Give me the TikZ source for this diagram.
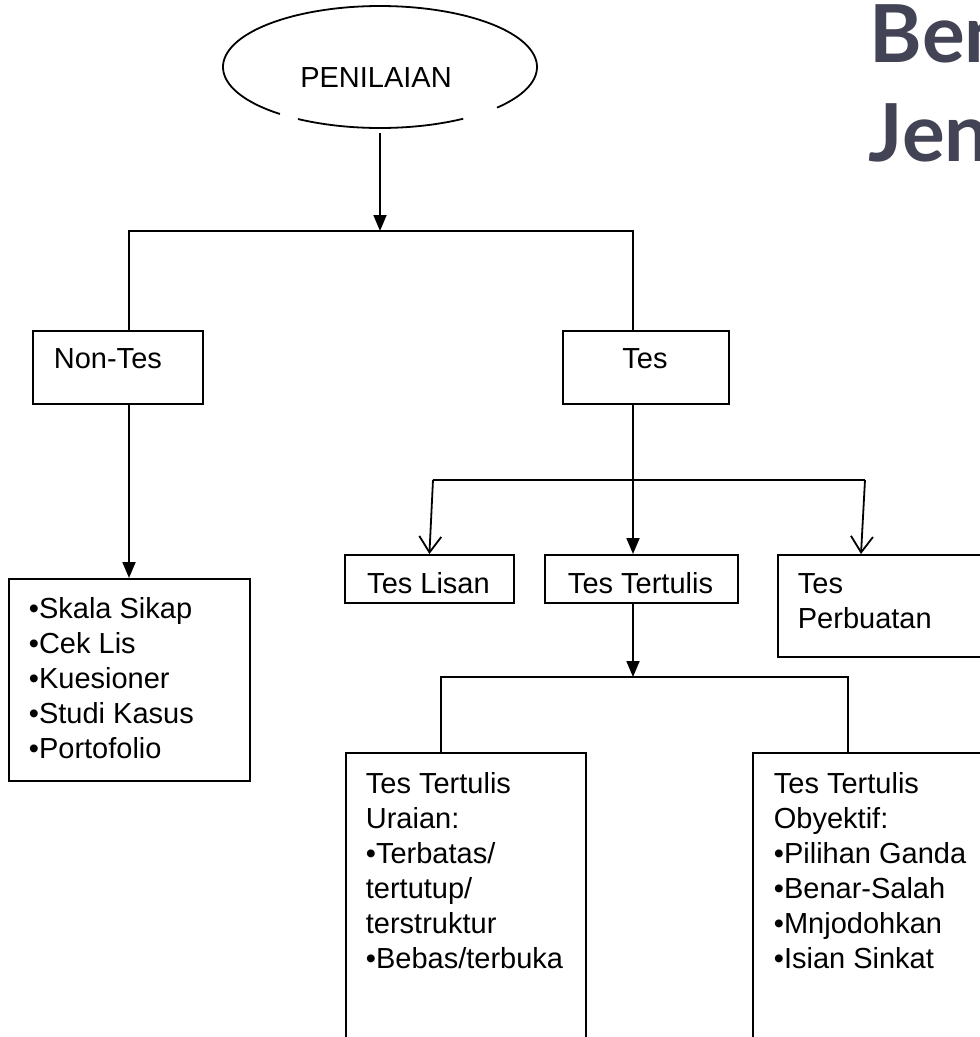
\documentclass[tikz,border=0pt]{standalone}
\usepackage{fontspec}
\setmainfont{Liberation Sans}
\newfontfamily\titlefont{Lato}
\usetikzlibrary{arrows.meta,shapes.geometric}
\definecolor{titlecol}{RGB}{67,67,86}
\begin{document}
\begin{tikzpicture}[x=1pt,y=-1pt,
  line width=1.8pt,
  box/.style={draw, line width=1.8pt, rectangle, inner sep=0pt, anchor=north west},
  lbl/.style={inner sep=0pt, font=\fontsize{29}{35}\selectfont},
  lst/.style={lbl, align=left, anchor=north west},
  title/.style={inner sep=0pt, anchor=base west, text=titlecol, font=\titlefont\bfseries\fontsize{80}{96}\selectfont},
  fillarrow/.style={-{Triangle[length=16pt,width=13pt]}},
  openarrow/.style={-{Straight Barb[length=16pt,width=22pt]}},
]
\useasboundingbox (0,0) rectangle (980,1037);
\fill[white] (0,0) rectangle (980,1037);
\begin{scope}
\clip (0,0) rectangle (980,1037);

% title (cut at the right edge)
\node[title] (t1) at (869,62) {Ben};
\node[title] (t2) at (868,161) {Jen};

% ellipse with its broken outline
\node[ellipse, minimum width=314pt, minimum height=122pt, inner sep=0pt] (pen) at (380,67) {};
\draw plot[domain=41.8:-230.4, samples=120, smooth] ({380+157*cos(\x)},{67+61*sin(\x)});
\draw plot[domain=121.5:58, samples=40, smooth] ({380+157*cos(\x)},{67+61*sin(\x)});
\node[lbl, anchor=base] (penT) at (376,87.4) {PENILAIAN};

% boxes
\node[box, minimum width=170pt, minimum height=73pt] (nontes) at (32,330) {};
\node[box, minimum width=166pt, minimum height=73pt] (tes) at (562,330) {};
\node[box, minimum width=241pt, minimum height=202pt] (list) at (8,578) {};
\node[box, minimum width=169pt, minimum height=48pt] (lisan) at (344,554) {};
\node[box, minimum width=193pt, minimum height=48pt] (tertulis) at (544,554) {};
\node[box, minimum width=240pt, minimum height=102pt] (perb) at (777,554) {};
\node[box, minimum width=240pt, minimum height=320pt] (uraian) at (345,752) {};
\node[box, minimum width=260pt, minimum height=320pt] (obj) at (752,752) {};

% texts
\node[lbl, anchor=base west] (nontesT) at (53,368.4) {Non-Tes};
\node[lbl, anchor=base] (tesT) at (645,368.4) {Tes};
\node[lst] (listT) at (28,596.2) {•Skala Sikap\\•Cek Lis\\•Kuesioner\\•Studi Kasus\\•Portofolio};
\node[lbl, anchor=base] (lisanT) at (428.5,593.4) {Tes Lisan};
\node[lbl, anchor=base] (tertulisT) at (640.5,593.4) {Tes Tertulis};
\node[lst] (perbT) at (797,572.6) {Tes\\Perbuatan};
\node[lst] (uraianT) at (365,771.2) {Tes Tertulis\\Uraian:\\•Terbatas/\\tertutup/\\terstruktur\\•Bebas/terbuka};
\node[lst] (objT) at (773,771.2) {Tes Tertulis\\Obyektif:\\•Pilihan Ganda\\•Benar-Salah\\•Mnjodohkan\\•Isian Sinkat};

% junction points
\coordinate (j0) at (380,231);
\coordinate (jl) at (129,231);
\coordinate (jr) at (633,231);
\coordinate (kl) at (433,480);
\coordinate (kr) at (865,480);
\coordinate (kp) at (861,554);
\coordinate (mc) at (633,677);
\coordinate (ml) at (441,677);
\coordinate (mr) at (848,677);

% connectors
\draw[fillarrow, shorten <=4pt] (pen.south) -- (j0);
\draw (nontes.north -| jl) -- (jl) -- (jr) -- (tes.north -| jr);
\draw[fillarrow] (nontes.south -| jl) -- (list.north -| jl);
\draw[fillarrow] (tes.south -| jr) -- (tertulis.north -| jr);
\draw (kl) -- (kr);
\draw[openarrow] (kl) -- (lisan.north);
\draw[openarrow] (kr) -- (kp);
\draw[fillarrow] (tertulis.south -| mc) -- (mc);
\draw (uraian.north -| ml) -- (ml) -- (mr) -- (obj.north -| mr);
\end{scope}
\end{tikzpicture}
\end{document}
